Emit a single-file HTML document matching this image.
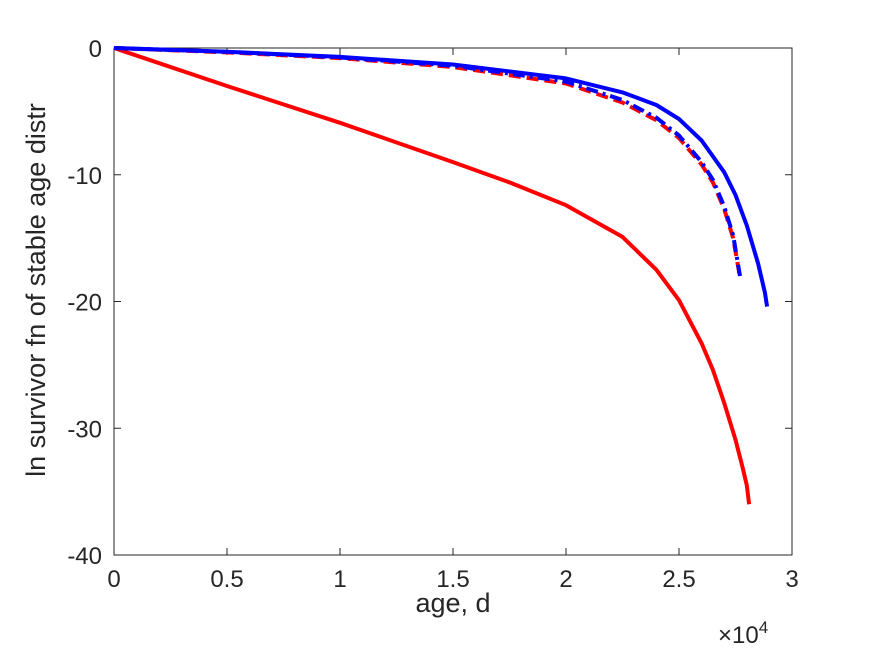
<!DOCTYPE html>
<html><head><meta charset="utf-8"><style>
body{margin:0;background:#fff;width:875px;height:656px;overflow:hidden}
svg text{font-family:"Liberation Sans",sans-serif;fill:#262626}
</style></head><body>
<svg width="875" height="656">
<g id="plot"></g>
</svg>
<script>
const xTicks=[0,0.5,1,1.5,2,2.5,3];
const yTicks=[0,-10,-20,-30,-40];
const redSolidX=[0,0.5,1,1.5,1.75,2,2.25,2.4,2.5,2.6,2.65,2.7,2.75,2.78,2.8,2.81];
const redSolidY=[0,-3.0,-5.9,-9.0,-10.6,-12.4,-14.9,-17.5,-19.9,-23.3,-25.4,-28.0,-30.9,-33.0,-34.5,-36.0];
const blueSolidX=[0,0.5,1,1.5,2,2.25,2.4,2.5,2.6,2.7,2.75,2.8,2.85,2.88,2.89];
const blueSolidY=[0,-0.3,-0.7,-1.3,-2.4,-3.5,-4.5,-5.6,-7.3,-9.8,-11.6,-14.0,-17.0,-19.3,-20.4];
const redDashX=[0,0.5,1,1.5,2,2.25,2.4,2.5,2.6,2.65,2.7,2.74,2.77];
const redDashY=[0,-0.35,-0.8,-1.5,-2.8,-4.3,-5.7,-7.1,-9.2,-10.6,-12.7,-15.0,-18.1];
const blueDashX=[0,0.5,1,1.5,2,2.25,2.4,2.5,2.6,2.65,2.7,2.74,2.77];
const blueDashY=[0,-0.3,-0.75,-1.4,-2.65,-4.1,-5.5,-6.9,-9.0,-10.4,-12.5,-14.8,-18.0];
const L=114,R=792,T=48,B=555;
const xs=v=>L+(v/3)*(R-L);
const ys=v=>T+(-v/40)*(B-T);
const NS="http://www.w3.org/2000/svg";
const g=document.getElementById('plot');
function mk(t,a){const e=document.createElementNS(NS,t);for(const k in a)e.setAttribute(k,a[k]);g.appendChild(e);return e;}
const box=mk('rect',{x:L,y:T,width:R-L,height:B-T,fill:'none',stroke:'#262626','stroke-width':1});


xTicks.forEach(t=>{
 const x=xs(t);
 const l1=mk('line',{x1:x,x2:x,y1:B,y2:B-7,stroke:'#262626'});
 
 
 const l2=mk('line',{x1:x,x2:x,y1:T,y2:T+7,stroke:'#262626'});
 
 
 const tx=mk('text',{x:x,y:B+32,'text-anchor':'middle','font-size':24});
 tx.textContent=String(t);
 
 
});
yTicks.forEach(t=>{
 const y=ys(t);
 const l1=mk('line',{x1:L,x2:L+7,y1:y,y2:y,stroke:'#262626'});
 
 
 const l2=mk('line',{x1:R,x2:R-7,y1:y,y2:y,stroke:'#262626'});
 
 
 const tx=mk('text',{x:L-12,y:y+9,'text-anchor':'end','font-size':24});
 tx.textContent=String(t);
 
 
});
function series(X,Y,color,dash,name){
 const d=X.map((x,i)=>(i?'L':'M')+xs(x).toFixed(1)+','+ys(Y[i]).toFixed(1)).join(' ');
 const p=mk('path',{d:d,fill:'none',stroke:color,'stroke-width':4,'stroke-dasharray':dash,'stroke-linejoin':'round'});
 
 
}
series(redSolidX,redSolidY,'#ff0000','none','red-solid-line');
series(redDashX,redDashY,'#ff0000','12,6','red-dashed-line');
series(blueDashX,blueDashY,'#0000ff','12,5,3,5','blue-dashdot-line');
series(blueSolidX,blueSolidY,'#0000ff','none','blue-solid-line');
const xl=mk('text',{x:453,y:612,'text-anchor':'middle','font-size':27});
xl.textContent='age, d';


const ex=mk('text',{x:718,y:643,'font-size':24});
ex.innerHTML='×10<tspan dy="-10" font-size="17">4</tspan>';


const yl=mk('text',{x:0,y:0,'text-anchor':'middle','font-size':27,transform:'translate(45,290) rotate(-90)'});
yl.textContent='ln survivor fn of stable age distr';


</script>
</body></html>
